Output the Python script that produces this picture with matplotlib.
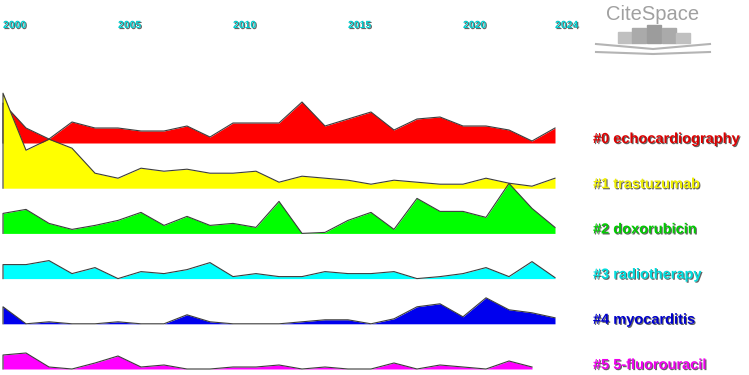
import numpy as np
import matplotlib.pyplot as plt
import matplotlib.patheffects as pe
from matplotlib.patches import Rectangle

plt.rcParams['font.family'] = ['Liberation Sans', 'DejaVu Sans']

years = np.arange(2000, 2025)
tick_years = [2000, 2005, 2010, 2015, 2020, 2024]

labels = ['#0 echocardiography', '#1 trastuzumab', '#2 doxorubicin',
          '#3 radiotherapy', '#4 myocarditis', '#5 5-fluorouracil']
fills = ['#ff0000', '#ffff00', '#00ff00', '#00ffff', '#0000ee', '#ff00ff']
text_colors = ['#dd0000', '#eeee00', '#00cc00', '#00dddd', '#0000cc', '#ee00ee']

echo = [40, 15, 4, 21, 15, 15, 12, 12, 17, 6, 20, 20, 20, 41, 17, 24, 31, 13, 24, 26, 17, 17, 13, 2, 15]
trastuzumab = [95, 38, 49, 40, 15, 10, 20, 17, 19, 15, 15, 17, 6, 12, 10, 8, 4, 8, 6, 4, 4, 10, 5, 2, 10]
doxorubicin = [20, 24, 10, 4, 8, 13, 21, 8, 17, 8, 10, 6, 32, 0, 1, 13, 21, 4, 35, 22, 22, 16, 50, 25, 6]
radiotherapy = [14, 14, 18, 5, 11, 0, 7, 5, 9, 16, 2, 5, 2, 2, 7, 5, 5, 7, 0, 2, 5, 11, 2, 17, 1]
myocarditis = [17, 0, 2, 0, 0, 2, 0, 0, 9, 2, 0, 0, 0, 2, 4, 4, 0, 5, 17, 20, 7, 26, 14, 11, 6]
fluorouracil = [14, 16, 2, 0, 6, 13, 2, 4, 0, 0, 2, 2, 4, 0, 2, 0, 0, 6, 0, 4, 2, 0, 8, 2]

series = [echo, trastuzumab, doxorubicin, radiotherapy, myocarditis, fluorouracil]

fig = plt.figure(figsize=(7.49, 3.75), dpi=100)
ax = fig.add_axes([0, 0, 1, 1])
ax.set_xlim(2000 - 3 / 23, 2000 + 746 / 23)
ax.set_ylim(375, 0)
ax.axis('off')

shadow = [pe.withSimplePatchShadow(offset=(0.8, -0.8), shadow_rgbFace='#222222', alpha=0.7)]

for i, vals in enumerate(series):
    base = 143 + 45.2 * i
    x = years[:len(vals)]
    top = base - np.array(vals)
    ax.fill_between(x, base, top, color=fills[i], lw=0, zorder=2 + i)
    ax.plot(np.r_[x[0], x], np.r_[base, top], color='#3c3c3c', lw=0.8, zorder=2 + i)
    ax.text(2025.65, base - 4, labels[i], color=text_colors[i], fontsize=10.5,
            fontweight='bold', va='center', ha='left', path_effects=shadow)

for yr in tick_years:
    ax.text(yr, 25, str(yr), color='#00cccc', fontsize=7.5, fontweight='bold',
            ha='left', va='center', path_effects=shadow)

# CiteSpace logo
fig.text(653 / 749, 1 - 15 / 375, 'CiteSpace', color='#a0a0a0', fontsize=14.5,
         ha='center', va='center')
bar_x = [618, 632, 647, 662, 676]
bar_top = [32, 28, 25, 28, 33]
bar_col = ['#c0c0c0', '#aaaaaa', '#9c9c9c', '#aaaaaa', '#c0c0c0']
for bx, bt, bc in zip(bar_x, bar_top, bar_col):
    fig.patches.append(Rectangle((bx / 749, 1 - 43 / 375), 14 / 749, (43 - bt) / 375,
                                 transform=fig.transFigure, color=bc))
for ys in ([44, 49, 44], [52, 54, 52]):
    xs = np.array([596, 653, 710])
    fig.add_artist(plt.Line2D(xs / 749, 1 - np.array(ys) / 375, color='#b4b4b4', lw=1.5))

fig.savefig('out.png', dpi=100)
